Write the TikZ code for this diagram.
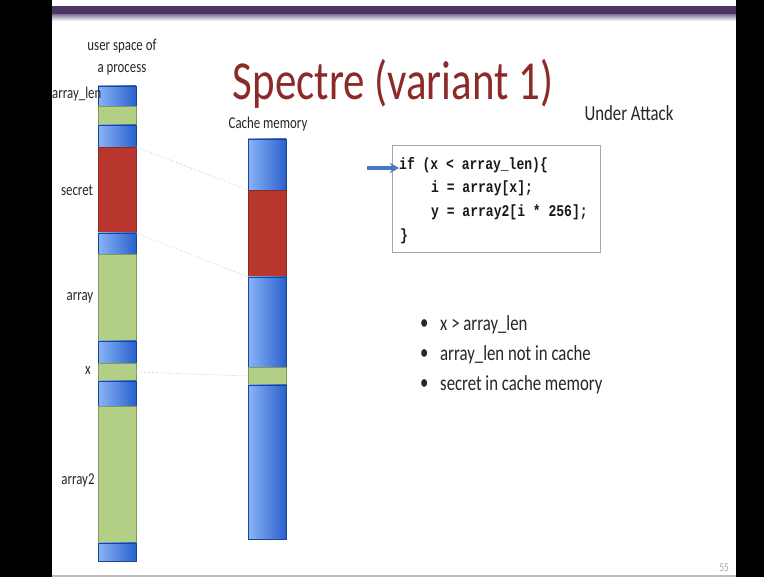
\documentclass[tikz,border=0pt]{standalone}
\usepackage{fontspec}
\setmainfont{Carlito}[FakeStretch=0.78]
\newfontfamily\codefont{Liberation Mono}[FakeStretch=0.8]
\usetikzlibrary{arrows.meta}
\definecolor{slidepurple}{HTML}{4A3566}
\definecolor{barblueL}{HTML}{8AB4F8}
\definecolor{barblueD}{HTML}{2A62CC}
\definecolor{bargreen}{HTML}{B3CF85}
\definecolor{bargreenD}{HTML}{7F9A5A}
\definecolor{barred}{HTML}{B9362F}
\definecolor{barredD}{HTML}{8A2A24}
\definecolor{titlered}{HTML}{8C2A2A}
\definecolor{textgrey}{HTML}{262626}
\definecolor{arrowblue}{HTML}{4A78C0}
\tikzset{
  seg/.style={rectangle, anchor=north west, minimum width=38pt, inner sep=0pt, outer sep=0pt, line width=0.6pt},
  blueseg/.style={seg, left color=barblueL, right color=barblueD, draw=barblueD!70!black},
  greenseg/.style={seg, fill=bargreen, draw=bargreenD},
  redseg/.style={seg, fill=barred, draw=barredD},
  lbl/.style={font=\fontsize{16.5}{18}\selectfont, text=textgrey, inner sep=0pt},
  codeline/.style={font=\codefont\bfseries\fontsize{16.3}{18}\selectfont, text=black!90, anchor=west, inner sep=0pt},
  bullettxt/.style={font=\fontsize{21.5}{24}\selectfont, text=textgrey, anchor=west, inner sep=0pt},
  link/.style={draw=gray!55, dotted, line width=0.7pt},
}
\begin{document}
\begin{tikzpicture}[x=1pt,y=-1pt]
\useasboundingbox (0,0) rectangle (764,577);
% slide background and frame
\fill[white] (0,0) rectangle (764,577);
\fill[slidepurple] (52,6) rectangle (736,15);
\shade[top color=slidepurple!60, bottom color=white] (52,15) rectangle (736,21);
\fill[black] (0,0) rectangle (52,577);
\fill[black] (736,0) rectangle (764,577);
\fill[slidepurple!35] (52,575) rectangle (736,577);

% user space of a process
\node[blueseg, minimum height=20pt] (lb1) at (98,86) {};
\node[greenseg, minimum height=19pt] (llen) at (98,106) {};
\node[blueseg, minimum height=22pt] (lb2) at (98,125) {};
\node[redseg, minimum height=86pt] (lsecret) at (98,147) {};
\node[blueseg, minimum height=21pt] (lb3) at (98,233) {};
\node[greenseg, minimum height=87pt] (larray) at (98,254) {};
\node[blueseg, minimum height=22pt] (lb4) at (98,341) {};
\node[greenseg, minimum height=18pt] (lx) at (98,363) {};
\node[blueseg, minimum height=25pt] (lb5) at (98,381) {};
\node[greenseg, minimum height=137pt] (larray2) at (98,406) {};
\node[blueseg, minimum height=18pt] (lb6) at (98,543) {};

% cache memory
\node[blueseg, minimum height=51pt] (cb1) at (248,139) {};
\node[redseg, minimum height=87pt] (csecret) at (248,190) {};
\node[blueseg, minimum height=90pt] (cb2) at (248,277) {};
\node[greenseg, minimum height=18pt] (cx) at (248,367) {};
\node[blueseg, minimum height=154pt] (cb3) at (248,385) {};

% mapping lines
\draw[link] (lsecret.north east) -- (csecret.north west);
\draw[link] (lsecret.south east) -- (csecret.south west);
\draw[link] (lx.east) -- (cx.west);

% labels
\node[lbl] (ustitle1) at (122,46) {user space of};
\node[lbl] (ustitle2) at (122,70) {a process};
\node[lbl, anchor=west] (lenlbl) at (52,94) {array\_len};
\node[lbl] (secretlbl) at (77,190) {secret};
\node[lbl] (arraylbl) at (80,298) {array};
\node[lbl] (xlbl) at (88,371) {x};
\node[lbl] (array2lbl) at (78,480) {array2};
\node[lbl] (cachelbl) at (268,124) {Cache memory};

% title
\node[font=\fontsize{55}{60}\selectfont, text=titlered, inner sep=0pt] (title) at (393,84) {Spectre (variant 1)};
\node[font=\fontsize{21.5}{24}\selectfont, text=textgrey, inner sep=0pt] (attack) at (629,113) {Under Attack};

% code box
\draw[draw=gray!70, line width=1pt, fill=white] (392,146) rectangle (600,253);
\node[codeline] (c1) at (399,165) {if (x < array\_len)\{};
\node[codeline] (c2) at (431,188) {i = array[x];};
\node[codeline] (c3) at (431,212) {y = array2[i * 256];};
\node[codeline] (c4) at (400,236) {\}};
\coordinate (arrstart) at (367,168);
\draw[arrowblue, line width=3.2pt, -{Stealth[length=9pt,width=10pt]}] (arrstart) -- (c1.west |- arrstart);

% bullet list
\node[bullettxt] (d1) at (420,325) {•};
\node[bullettxt] (b1) at (440,325) {x > array\_len};
\node[bullettxt] (d2) at (420,355) {•};
\node[bullettxt] (b2) at (440,355) {array\_len not in cache};
\node[bullettxt] (d3) at (420,385) {•};
\node[bullettxt] (b3) at (440,385) {secret in cache memory};

% slide number
\node[font=\fontsize{12}{14}\selectfont, text=gray!70, inner sep=0pt] (pagenum) at (724,568) {55};
\end{tikzpicture}
\end{document}
